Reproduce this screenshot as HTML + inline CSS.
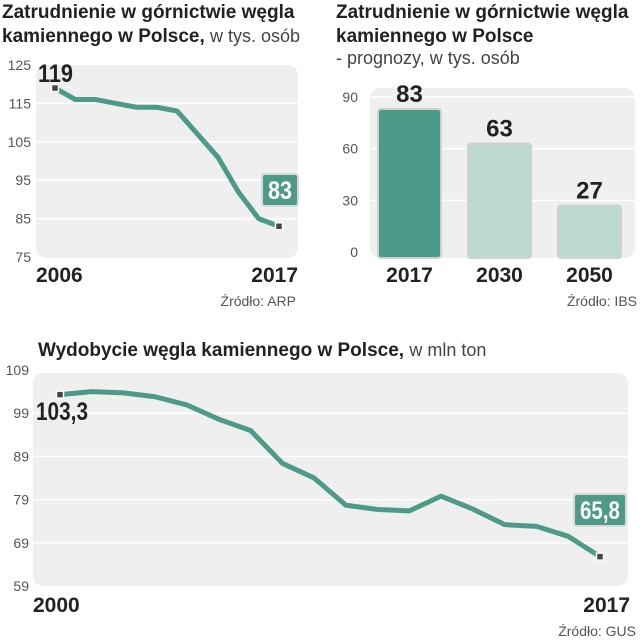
<!DOCTYPE html>
<html><head><meta charset="utf-8">
<style>
body{margin:0;width:640px;height:640px;background:#fff;overflow:hidden;font-family:"Liberation Sans Narrow","Liberation Sans",sans-serif;}
svg{position:absolute;left:0;top:0}
.t{font-weight:bold;font-size:19px;fill:#222}
.tl{font-weight:normal;font-size:18px;fill:#444}
.ax{font-size:14px;fill:#555}
.yr{font-size:21px;fill:#222;font-weight:bold}
.src{font-size:14px;fill:#555}
</style></head><body>
<svg id="s" width="640" height="640">
<text x="2" y="18" class="t">Zatrudnienie w górnictwie węgla</text>
<text x="2" y="42" class="t">kamiennego w Polsce, <tspan class="tl">w tys. osób</tspan></text>
<text x="336" y="18" class="t">Zatrudnienie w górnictwie węgla</text>
<text x="336" y="42" class="t">kamiennego w Polsce</text>
<text x="336" y="64" class="tl">- prognozy, w tys. osób</text>
<text x="38" y="356" class="t">Wydobycie węgla kamiennego w Polsce, <tspan class="tl">w mln ton</tspan></text>
<rect x="36" y="65" width="262" height="193" rx="10" fill="#efefef"/>
<rect x="370" y="88" width="265" height="170" rx="10" fill="#efefef"/>
<rect x="33" y="373" width="595" height="213" rx="10" fill="#efefef"/>
<g id="g1"></g><g id="g2"></g><g id="g3"></g>
<text x="36" y="282" class="yr">2006</text>
<text x="298" y="282" class="yr" text-anchor="end">2017</text>
<text x="296" y="306" class="src" text-anchor="end">Źródło: ARP</text>
<text x="637" y="306" class="src" text-anchor="end">Źródło: IBS</text>
<text x="33" y="612" class="yr">2000</text>
<text x="630" y="612" class="yr" text-anchor="end">2017</text>
<text x="636" y="636" class="src" text-anchor="end">Źródło: GUS</text>
</svg>
<script>
const emp=[119,116,116,115,114,114,113,107,101,92,85,83];
const empTicks=[125,115,105,95,85,75];
const fcCats=["2017","2030","2050"];
const fcVals=[83,63,27];
const fcTicks=[90,60,30,0];
const prod=[103.3,104.0,103.7,102.8,100.9,97.6,95.0,87.4,84.0,77.7,76.7,76.4,79.8,76.8,73.2,72.8,70.5,65.8];
const prodTicks=[109,99,89,79,69,59];
const NS="http://www.w3.org/2000/svg";
function mk(p,tag,a,txt){const e=document.createElementNS(NS,tag);for(const k in a)e.setAttribute(k,a[k]);if(txt!==undefined)e.textContent=txt;p.appendChild(e);return e;}
const C="#4e9a88";
function fmt(v){return String(v).replace('.',',');}
function line(g,data,ticks,x0,x1,y0,y1,px0,px1,tickX,first,last){
  const vmax=ticks[0],vmin=ticks[ticks.length-1];
  const y=v=>y0+(vmax-v)*(y1-y0)/(vmax-vmin);
  const x=i=>x0+i*(x1-x0)/(data.length-1);
  ticks.forEach(t=>{
    if(t!==vmax&&t!==vmin){const l=mk(g,'line',{x1:px0,x2:px1,y1:y(t),y2:y(t),stroke:'#fff','stroke-width':1.5});
    
    }
    const tx=mk(g,'text',{x:tickX,y:y(t)+5,class:'ax','text-anchor':'end'},t);
    
    
  });
  const p=mk(g,'polyline',{points:data.map((v,i)=>x(i)+','+y(v)).join(' '),fill:'none',stroke:C,'stroke-width':5,'stroke-linejoin':'round'});
  
  
  [0,data.length-1].forEach(i=>{const m=mk(g,'rect',{x:x(i)-3.5,y:y(data[i])-3.5,width:7,height:7,fill:'#444',stroke:'#fff','stroke-width':1.5});
    
    });
  const ft=fmt(data[0]);
  const f=mk(g,'text',{x:first[0],y:first[1],'font-size':25,'font-weight':'bold',fill:'#222',textLength:first[2],lengthAdjust:'spacingAndGlyphs'},ft);
  
  
  const lv=data[data.length-1];
  const b=mk(g,'rect',{x:last[0],y:last[1],width:last[2],height:32,rx:3,fill:C,stroke:'#d8d8d8','stroke-width':2});
  
  
  const lt=mk(g,'text',{x:last[0]+6,y:last[1]+25,'font-size':25,'font-weight':'bold',fill:'#fff',textLength:last[2]-12,lengthAdjust:'spacingAndGlyphs'},fmt(lv));
  
  
}
line(document.getElementById('g1'),emp,empTicks,55,279,65,257,36,298,31,[38,82,35],[262,174,36]);
line(document.getElementById('g3'),prod,prodTicks,60,600,370,586,33,628,29,[36,420,52],[574,494,52]);
// bars
const g2=document.getElementById('g2');
const by=v=>252-v*(252-97)/90;
fcTicks.forEach(t=>{
  if(t!==0){const l=mk(g2,'line',{x1:370,x2:635,y1:by(t),y2:by(t),stroke:'#fff','stroke-width':1.5});
  
  }
  const tx=mk(g2,'text',{x:358,y:by(t)+5,class:'ax','text-anchor':'end'},t);
  
  
});
fcVals.forEach((v,i)=>{
  const x=378+i*90,w=63;
  const r=mk(g2,'rect',{x:x,y:by(v),width:w,height:252-by(v)+6,rx:3,fill:i===0?C:'#bcdad1',stroke:'#d0d0d0','stroke-width':2});
  
  
  const vt=mk(g2,'text',{x:x+w/2,y:by(v)-7,'font-size':24,'font-weight':'bold',fill:'#222','text-anchor':'middle'},v);
  
  
  const ct=mk(g2,'text',{x:x+w/2,y:282,class:'yr','text-anchor':'middle'},fcCats[i]);
  
  
});
</script>
</body></html>
